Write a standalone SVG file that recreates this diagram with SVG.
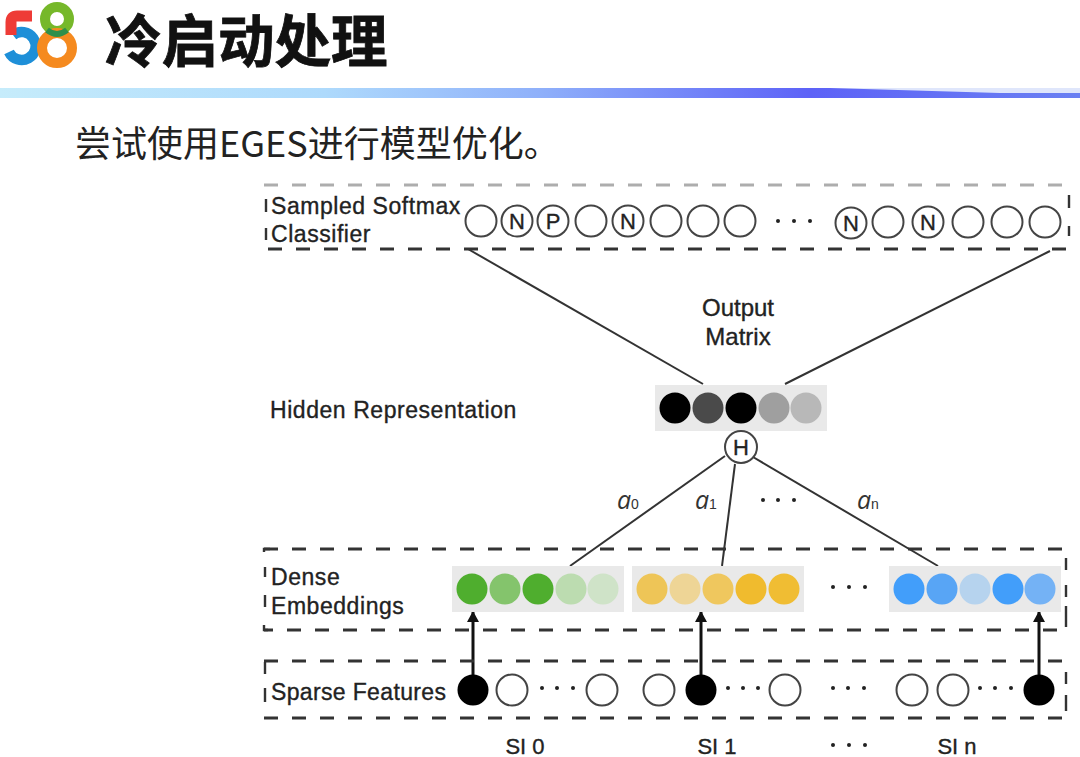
<svg xmlns="http://www.w3.org/2000/svg" width="1080" height="757" viewBox="0 0 1080 757">
<style>
.t{font-family:"Liberation Sans",Arial,sans-serif;font-size:23px;letter-spacing:.55px;fill:#222;stroke:#222;stroke-width:.35}
.d{fill:none;stroke:#333;stroke-width:2.8;stroke-dasharray:14 14}
.c{fill:#fff;stroke:#444;stroke-width:2}
.l{fill:none;stroke:#333;stroke-width:2}
.a{fill:none;stroke:#111;stroke-width:3;marker-end:url(#ah)}
.m{font-family:"Liberation Sans",Arial,sans-serif;font-size:22px;fill:#222;text-anchor:middle;stroke:#222;stroke-width:.35}
.w{font-family:"Open Sans",sans-serif;font-size:25px;font-style:italic;fill:#333}
.s{font-family:"Liberation Sans",sans-serif;font-size:14px;fill:#333}
.e{fill:none;stroke:#333;stroke-width:2.4}
.dot{fill:#222}
</style>
<defs>
<linearGradient id="band" x1="0" x2="1" y1="0" y2="0">
<stop offset="0" stop-color="#c6ecfb"/><stop offset=".3" stop-color="#aedafc"/><stop offset=".5" stop-color="#8fb0fa"/><stop offset=".75" stop-color="#5d62f7"/><stop offset="1" stop-color="#6a80f2"/>
</linearGradient>
<marker id="ah" markerUnits="userSpaceOnUse" markerWidth="14" markerHeight="14" refX="11" refY="6" orient="auto"><path d="M0 0L11 6L0 12Z" fill="#111"/></marker>
</defs>
<rect width="1080" height="757" fill="#fff"/>
<g id="logo" fill="none">
<path d="M9 52A14 14 0 1 0 13 35" stroke="#1e8fd8" stroke-width="10.5"/>
<path d="M32 16H17Q11 16 11 22V35" stroke="#ee3b36" stroke-width="11"/>
<circle cx="57" cy="19" r="12" stroke="#76b82a" stroke-width="10"/>
<circle cx="57" cy="48" r="15" stroke="#f58a1f" stroke-width="10"/>
<path d="M47 30Q57 38 67 30" stroke="#2f8f4a" stroke-width="6"/>
</g>
<text id="title" x="105" y="62" font-family="'Noto Sans CJK SC',sans-serif" font-weight="700" font-size="56.5" fill="#111" stroke="#111" stroke-width=".8">冷启动处理</text>
<g id="band-strip">
<rect x="0" y="88" width="1080" height="10" fill="#dfe6fb"/>
<path d="M0 88H830L1000 93H1080V98H0Z" fill="url(#band)"/>
</g>
<text id="subtitle" x="75" y="157" font-family="'Noto Sans CJK SC',sans-serif" font-size="36" fill="#222">尝试使用EGES进行模型优化。</text>

<g id="connectors">
<line class="l" x1="468" y1="249" x2="703" y2="384"/>
<line class="l" x1="1050" y1="251" x2="785" y2="384"/>
<line class="l" x1="725" y1="456" x2="570" y2="566"/>
<line class="l" x1="735" y1="464" x2="722" y2="566"/>
<line class="l" x1="753" y1="457" x2="938" y2="566"/>
<line class="a" x1="473" y1="680" x2="473" y2="611"/>
<line class="a" x1="701" y1="680" x2="701" y2="611"/>
<line class="a" x1="1039" y1="680" x2="1039" y2="611"/>
</g>

<g id="classifier">
<path class="d" d="M264 185H1066" stroke-opacity=".4"/>
<path class="d" d="M268 249H1070"/>
<path class="e" d="M266 199V212M266 228V240M1069 195V208M1069 226V236"/>
<text class="t" x="271" y="214">Sampled Softmax</text>
<text class="t" x="271" y="242">Classifier</text>
<circle class="c" cx="481" cy="221" r="15.5"/>
<circle class="c" cx="517" cy="221" r="15.5"/>
<circle class="c" cx="553" cy="221" r="15.5"/>
<circle class="c" cx="591" cy="221" r="15.5"/>
<circle class="c" cx="628" cy="221" r="15.5"/>
<circle class="c" cx="666" cy="221" r="15.5"/>
<circle class="c" cx="703" cy="221" r="15.5"/>
<circle class="c" cx="740" cy="221" r="15.5"/>
<circle class="c" cx="851" cy="223" r="15.5"/>
<circle class="c" cx="888" cy="222" r="15.5"/>
<circle class="c" cx="928" cy="222" r="15.5"/>
<circle class="c" cx="968" cy="222" r="15.5"/>
<circle class="c" cx="1007" cy="222" r="15.5"/>
<circle class="c" cx="1045" cy="222" r="15.5"/>
<text class="m" x="517" y="229">N</text>
<text class="m" x="553" y="229">P</text>
<text class="m" x="628" y="229">N</text>
<text class="m" x="851" y="231">N</text>
<text class="m" x="928" y="230">N</text>
<circle class="dot" cx="778" cy="221" r="2"/><circle class="dot" cx="794" cy="221" r="2"/><circle class="dot" cx="810" cy="221" r="2"/>
</g>

<g id="output-matrix">
<text class="m" style="font-size:24px" x="738" y="316">Output</text>
<text class="m" style="font-size:24px" x="738" y="345">Matrix</text>
</g>

<g id="hidden">
<text class="t" x="270" y="418">Hidden Representation</text>
<rect x="655" y="385" width="172" height="46" fill="#e9e9e9"/>
<circle cx="675" cy="408" r="15.5" fill="#000"/>
<circle cx="708" cy="408" r="15.5" fill="#4a4a4a"/>
<circle cx="741" cy="408" r="15.5" fill="#000"/>
<circle cx="774" cy="408" r="15.5" fill="#9f9f9f"/>
<circle cx="806" cy="408" r="15.5" fill="#b8b8b8"/>
</g>
<g id="h-node">
<circle class="c" cx="741" cy="447" r="16"/>
<text class="m" x="741" y="455">H</text>
</g>

<g id="weights">
<text class="w" x="617" y="509">a</text><text class="s" x="631" y="509">0</text>
<text class="w" x="695" y="509">a</text><text class="s" x="709" y="509">1</text>
<text class="w" x="857" y="509">a</text><text class="s" x="871" y="509">n</text>
<circle class="dot" cx="763" cy="500" r="2"/><circle class="dot" cx="778" cy="500" r="2"/><circle class="dot" cx="794" cy="500" r="2"/>
</g>

<g id="dense">
<path class="d" d="M264 549H1062"/>
<path class="d" d="M264 630H1062" stroke-dashoffset="5"/>
<path class="e" d="M265 567V577M265 595V607M1066 558V570M1066 585V597M1066 606V627"/>
<path class="e" d="M264 552V549H270M264 625V630H268"/>
<text class="t" x="271" y="585">Dense</text>
<text class="t" x="271" y="614">Embeddings</text>
<rect x="452" y="566" width="172" height="46" fill="#e9e9e9"/>
<circle cx="472" cy="589" r="15.5" fill="#4fae2e"/>
<circle cx="505" cy="589" r="15.5" fill="#84c46c"/>
<circle cx="538" cy="589" r="15.5" fill="#4fae2e"/>
<circle cx="571" cy="589" r="15.5" fill="#bcdcb0"/>
<circle cx="603" cy="589" r="15.5" fill="#cfe3c8"/>
<rect x="632" y="566" width="172" height="46" fill="#e9e9e9"/>
<circle cx="652" cy="589" r="15.5" fill="#eec557"/>
<circle cx="685" cy="589" r="15.5" fill="#eed596"/>
<circle cx="718" cy="589" r="15.5" fill="#efc75e"/>
<circle cx="751" cy="589" r="15.5" fill="#f0bb2e"/>
<circle cx="784" cy="589" r="15.5" fill="#f0bd33"/>
<rect x="889" y="566" width="172" height="46" fill="#e9e9e9"/>
<circle cx="909" cy="589" r="15.5" fill="#429efa"/>
<circle cx="942" cy="589" r="15.5" fill="#58a5f5"/>
<circle cx="975" cy="589" r="15.5" fill="#b6d3ee"/>
<circle cx="1008" cy="589" r="15.5" fill="#429efa"/>
<circle cx="1040" cy="589" r="15.5" fill="#74b2f5"/>
<circle class="dot" cx="833" cy="587" r="2"/><circle class="dot" cx="849" cy="587" r="2"/><circle class="dot" cx="865" cy="587" r="2"/>
</g>

<g id="sparse">
<path class="d" d="M264 661H1062"/>
<path class="d" d="M264 718H1062"/>
<path class="e" d="M265 662V674M265 688V702M1066 672V684M1066 695V711"/>
<text class="t" x="271" y="700" style="letter-spacing:.35px">Sparse Features</text>
<circle cx="473" cy="690" r="15.5" fill="#000"/>
<circle class="c" cx="512" cy="690" r="15.5"/>
<circle class="c" cx="602" cy="690" r="15.5"/>
<circle class="c" cx="659" cy="690" r="15.5"/>
<circle cx="701" cy="690" r="15.5" fill="#000"/>
<circle class="c" cx="785" cy="690" r="15.5"/>
<circle class="c" cx="912" cy="690" r="15.5"/>
<circle class="c" cx="953" cy="690" r="15.5"/>
<circle cx="1039" cy="690" r="15.5" fill="#000"/>
<circle class="dot" cx="542" cy="688" r="2"/><circle class="dot" cx="557" cy="688" r="2"/><circle class="dot" cx="573" cy="688" r="2"/>
<circle class="dot" cx="728" cy="688" r="2"/><circle class="dot" cx="743" cy="688" r="2"/><circle class="dot" cx="758" cy="688" r="2"/>
<circle class="dot" cx="833" cy="688" r="2"/><circle class="dot" cx="848" cy="688" r="2"/><circle class="dot" cx="864" cy="688" r="2"/>
<circle class="dot" cx="980" cy="688" r="2"/><circle class="dot" cx="995" cy="688" r="2"/><circle class="dot" cx="1011" cy="688" r="2"/>
</g>

<g id="si-labels">
<text class="m" x="525" y="754">SI 0</text>
<text class="m" x="717" y="754">SI 1</text>
<text class="m" x="957" y="754">SI n</text>
<circle class="dot" cx="833" cy="745" r="2"/><circle class="dot" cx="849" cy="745" r="2"/><circle class="dot" cx="865" cy="745" r="2"/>
</g>
</svg>
